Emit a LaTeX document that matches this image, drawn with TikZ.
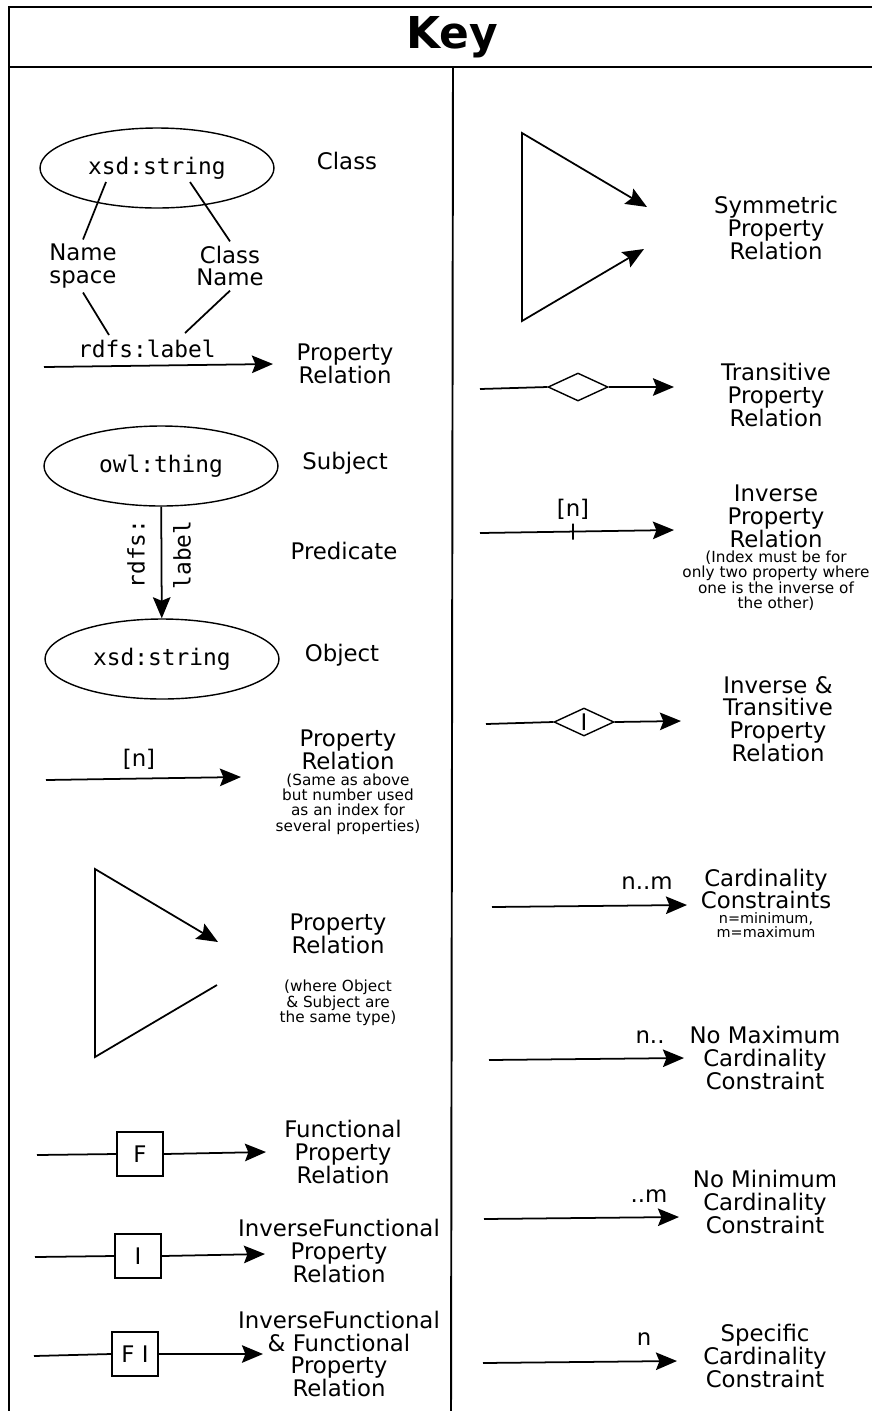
\documentclass[tikz,border=0pt]{standalone}
\usepackage{fontspec}
\setmainfont{DejaVu Sans}
\setmonofont{DejaVu Sans Mono}
\usetikzlibrary{shapes.geometric,arrows.meta,positioning}

\begin{document}
\begin{tikzpicture}[x=0.02cm, y=-0.02cm, line width=1pt,
	>={Stealth[length=12pt,width=10pt,inset=2pt]},
	frame/.style={ line width=1.4pt },
	cls/.style={ ellipse, draw, line width=0.8pt, minimum width=4.68cm, minimum height=1.6cm, inner sep=0pt, font=\fontsize{13}{14}\ttfamily },
	mono/.style={ inner sep=0pt, font=\fontsize{13}{14}\ttfamily },
	txt/.style={ align=center, inner sep=0pt, font=\fontsize{13}{13}\selectfont },
	note/.style={ align=center, inner sep=0pt, font=\fontsize{8.7}{8.8}\selectfont },
	tag/.style={ draw, minimum width=0.92cm, minimum height=0.88cm, inner sep=0pt, font=\fontsize{13}{13}\selectfont },
	diam/.style={ diamond, draw, line width=0.8pt, minimum width=1.2cm, minimum height=0.56cm, inner sep=0pt },
	tick/.style={ draw, minimum width=0pt, minimum height=0.32cm, inner sep=0pt }
]
\useasboundingbox (0,0) rectangle (872,1411);

\draw[frame] (9,1420) -- (9,7) -- (880,7);
\draw[frame] (9,67) -- (880,67);
\draw[line width=1.1pt] (453,67) -- (451,1420);
\node at (452,37) (key) [font=\fontsize{25}{30}\bfseries] {Key};

% left column
\node at (157,168) (cls) [cls] {xsd:string};
\node at (347,161) (clst) [txt] {Class};
\node at (83,266) (ns) [txt, inner sep=2pt] {Name\\space};
\node at (230,266) (cn) [txt, inner sep=2pt] {Class\\Name};
\node at (147,349) (lbl) [mono] {rdfs:label};
\coordinate (ns0) at (106,182);
\coordinate (cn0) at (190,182);
\coordinate (ns1) at (109,335);
\coordinate (cn1) at (185,333);
\draw (ns0) -- (ns.north) (ns.south) -- (ns1);
\draw (cn0) -- (cn.north) (cn.south) -- (cn1);
\coordinate (pr0) at (44,367);
\coordinate (pr1) at (273,364);
\draw[->] (pr0) -- (pr1);
\node at (345,364) (prt) [txt] {Property\\Relation};

\node at (161,466) (subj) [cls] {owl:thing};
\node at (162,659) (obj) [cls] {xsd:string};
\draw[->] (subj) -- (obj);
\node at (136,554) (pre1) [mono, rotate=90] {rdfs:};
\node at (182,555) (pre2) [mono, rotate=90] {label};
\node at (345,463) (subjt) [txt] {Subject};
\node at (344,551) (predt) [txt] {Predicate};
\node at (342,655) (objt) [txt] {Object};

\coordinate (ix0) at (46,780);
\coordinate (ix1) at (241,777);
\draw[->] (ix0) -- (ix1);
\node at (139,759) (ixn) [txt] {[n]};
\node at (348,750) (ixt) [txt] {Property\\Relation};
\node [note, below=1pt of ixt] (ixnote) {(Same as above\\but number used\\as an index for\\several properties)};

\coordinate (sl1) at (218,942);
\coordinate (sl2) at (95,869);
\coordinate (sl3) at (95,1057);
\coordinate (sl4) at (217,985);
\draw[<-] (sl1) -- (sl2) -- (sl3) -- (sl4);
\node at (338,934) (slt) [txt] {Property\\Relation};
\node at (338,1003) (slnote) [note] {(where Object\\\& Subject are\\the same type)};

\node at (140,1154) (boxf) [tag] {F};
\node at (138,1256) (boxi) [tag] {I};
\node at (135,1354) (boxfi) [tag] {F I};
\coordinate (f0) at (37,1155);
\coordinate (f1) at (266,1152);
\coordinate (i0) at (35,1257);
\coordinate (i1) at (265,1254);
\coordinate (fi0) at (34,1356);
\coordinate (fi1) at (263,1354);
\foreach \b in {f,i,fi} {
	\draw (\b0) -- (box\b.west);
	\draw[->] (box\b.east) -- (\b1);
}
\node at (343,1152) (ft) [txt] {Functional\\Property\\Relation};
\node at (339,1251) (it) [txt] {InverseFunctional\\Property\\Relation};
\node at (339,1354) (fit) [txt] {InverseFunctional\\\& Functional\\Property\\Relation};

% right column
\coordinate (s1) at (647,207);
\coordinate (s2) at (522,133);
\coordinate (s3) at (522,321);
\coordinate (s4) at (644,249);
\draw[<->] (s1) -- (s2) -- (s3) -- (s4);
\node at (776,228) (symt) [txt] {Symmetric\\Property\\Relation};

\node at (578,387) (tdiam) [diam] {};
\coordinate (t0) at (480,389);
\coordinate (t1) at (674,387);
\draw (t0) -- (tdiam.west);
\draw[->] (tdiam.east) -- (t1);
\node at (776,395) (trt) [txt] {Transitive\\Property\\Relation};

\coordinate (v0) at (480,533);
\coordinate (v1) at (674,530);
\draw[->] (v0) -- (v1) node[pos=0.48, tick] (vt) {};
\node at (573,509) (vn) [txt] {[n]};
\node at (776,516) (invt) [txt] {Inverse\\Property\\Relation};
\node [note, below=1pt of invt] (invnote) {(Index must be for\\only two property where\\one is the inverse of\\the other)};

\node at (584,722) (itdiam) [diam, label={[txt]center:I}] {};
\coordinate (w0) at (486,724);
\coordinate (w1) at (681,721);
\draw (w0) -- (itdiam.west);
\draw[->] (itdiam.east) -- (w1);
\node at (778,719) (itt) [txt] {Inverse \&\\Transitive\\Property\\Relation};

\coordinate (c0) at (492,907);
\coordinate (c1) at (687,905);
\coordinate (x0) at (489,1060);
\coordinate (x1) at (684,1058);
\coordinate (m0) at (484,1219);
\coordinate (m1) at (679,1217);
\coordinate (n0) at (483,1363);
\coordinate (n1) at (677,1361);
\foreach \c in {c,x,m,n} \draw[->] (\c0) -- (\c1);
\node at (647,883) (cl) [txt] {n..m};
\node at (650,1037) (xl) [txt] {n..};
\node at (649,1196) (ml) [txt] {..m};
\node at (644,1339) (nl) [txt] {n};
\node at (766,889) (ct) [txt] {Cardinality\\Constraints};
\node [note, below=1pt of ct, font=\fontsize{8.2}{8}\selectfont] (cnote) {n=minimum,\\m=maximum};
\node at (765,1058) (xt) [txt] {No Maximum\\Cardinality\\Constraint};
\node at (765,1202) (mt) [txt] {No Minimum\\Cardinality\\Constraint};
\node at (765,1356) (nt) [txt] {Specific\\Cardinality\\Constraint};

\end{tikzpicture}
\end{document}
